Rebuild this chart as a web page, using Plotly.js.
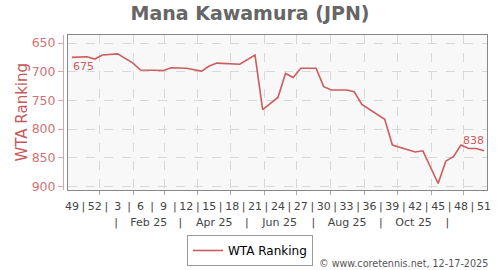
<!DOCTYPE html>
<html>
<head>
<meta charset="utf-8">
<script src="https://cdn.plot.ly/plotly-3.0.1.min.js"></script>
<style>
html,body{margin:0;padding:0;background:#fff;}
#chart{width:500px;height:270px;}
</style>
</head>
<body>
<div id="chart"></div>
<script>
// ---- data ----
const playerName = 'Mana Kawamura (JPN)';
const seriesName = 'WTA Ranking';
// week index counted from ISO week 49 of 2024 (0) to week 51 of 2025 (54)
const weekIndex = [0, 2, 3, 4, 6, 8, 9, 11, 12, 13, 15, 17, 18, 19, 22, 24, 25, 27, 28, 29, 30, 32, 33, 34, 36, 37, 38, 41, 42, 45, 46, 48, 49, 50, 51, 52, 53, 54];
const ranking   = [675, 674, 678, 671, 669, 685, 697, 697, 698, 693, 694, 699, 690, 685, 687, 671, 766, 745, 703, 710, 694, 694, 726, 732, 732, 735, 757, 783, 828, 840, 838, 895, 856, 848, 828, 834, 834, 838];
const weekTickIndex = [0, 3, 6, 9, 12, 15, 18, 21, 24, 27, 30, 33, 36, 39, 42, 45, 48, 51, 54];
const weekTickLabels = ['49', '52', '3', '6', '9', '12', '15', '18', '21', '24', '27', '30', '33', '36', '39', '42', '45', '48', '51'];
const monthLabelDates = ['2025-02-15', '2025-04-16', '2025-06-15', '2025-08-16', '2025-10-16'];
const monthLabels = ['Feb 25', 'Apr 25', 'Jun 25', 'Aug 25', 'Oct 25'];
const monthSeparatorDates = ['2025-01-16', '2025-03-16', '2025-05-16', '2025-07-16', '2025-09-16', '2025-11-16'];
const yTicks = [650, 700, 750, 800, 850, 900];
const footer = '\u00a9 www.coretennis.net, 12-17-2025';

// ---- helpers ----
const startMs = Date.UTC(2024, 11, 6, 12);
const DAY = 86400000;
function idxToDate(i) {
  return new Date(startMs + i * 7 * DAY).toISOString().slice(0, 19).replace('T', ' ');
}
const xDates = weekIndex.map(idxToDate);
const xRange = ['2024-12-02 22:00:00', '2025-12-22 08:00:00'];
const yRange = [906.3, 636.0];

// week row: labels + separators between them
const weekRowVals = [], weekRowText = [];
weekTickIndex.forEach((w, k) => {
  weekRowVals.push(idxToDate(w)); weekRowText.push(weekTickLabels[k]);
  if (k < weekTickIndex.length - 1) {
    weekRowVals.push(idxToDate(w + 1.5)); weekRowText.push('|');
  }
});
const monthRowVals = monthLabelDates.concat(monthSeparatorDates);
const monthRowText = monthLabels.concat(monthSeparatorDates.map(() => '|'));

const RED = '#cd5c5c';
const FONT = 'DejaVu Sans, Verdana, sans-serif';

const traces = [
  {
    x: xDates, y: ranking, type: 'scatter', mode: 'lines', name: seriesName,
    line: {color: RED, width: 1.6}, xaxis: 'x', yaxis: 'y', hoverinfo: 'skip'
  },
  {x: [], y: [], xaxis: 'x2', yaxis: 'y', showlegend: false, type: 'scatter'},
  {x: [], y: [], xaxis: 'x3', yaxis: 'y', showlegend: false, type: 'scatter'},
  {x: [], y: [], xaxis: 'x', yaxis: 'y2', showlegend: false, type: 'scatter'}
];

const layout = {
  width: 500, height: 270,
  margin: {l: 63, r: 13, t: 35, b: 80, pad: 0, autoexpand: false},
  paper_bgcolor: '#ffffff',
  plot_bgcolor: '#f8f8f8',
  font: {family: FONT, color: '#444'},
  showlegend: true,
  title: {
    text: playerName,
    font: {family: FONT, size: 19, weight: 'bold', color: '#666666'},
    xref: 'container', x: 0.5, xanchor: 'center',
    yref: 'container', y: 1 - 13 / 270, yanchor: 'middle'
  },
  xaxis: {
    type: 'date', range: xRange, domain: [5 / 424, 1],
    dtick: 'M1', tick0: '2025-01-01',
    showgrid: true, gridcolor: '#d8d8d8', griddash: 'dash', gridwidth: 1,
    ticks: 'outside', ticklen: 4, tickcolor: '#aaaaaa',
    showticklabels: false,
    showline: true, mirror: true, linecolor: '#888888', linewidth: 1,
    zeroline: false, fixedrange: true, automargin: false
  },
  xaxis2: {
    type: 'date', range: xRange, overlaying: 'x', anchor: 'y', side: 'bottom',
    tickmode: 'array', tickvals: weekRowVals, ticktext: weekRowText,
    ticks: '', showgrid: false, showline: false, zeroline: false,
    tickfont: {family: FONT, size: 11, color: '#444444'},
    ticklabelstandoff: 8, tickangle: 0, automargin: false
  },
  xaxis3: {
    type: 'date', range: xRange, overlaying: 'x', anchor: 'y', side: 'bottom',
    tickmode: 'array', tickvals: monthRowVals, ticktext: monthRowText,
    ticks: '', showgrid: false, showline: false, zeroline: false,
    tickfont: {family: FONT, size: 11, color: '#444444'},
    ticklabelstandoff: 24, tickangle: 0, automargin: false
  },
  yaxis: {
    range: yRange, anchor: 'free', position: 0,
    tickmode: 'array', tickvals: yTicks,
    ticks: 'outside', ticklen: 5, tickcolor: '#e2a4a4',
    tickfont: {family: FONT, size: 12.5, color: '#d27474'},
    showline: true, linecolor: '#e2a4a4', linewidth: 1,
    showgrid: true, gridcolor: '#d8d8d8', griddash: 'dash', gridwidth: 1,
    zeroline: false, automargin: false
  },
  yaxis2: {
    range: yRange, overlaying: 'y', anchor: 'x', side: 'left',
    showline: true, mirror: true, linecolor: '#888888', linewidth: 1,
    showticklabels: false, ticks: '', showgrid: false, zeroline: false
  },
  legend: {
    orientation: 'h', x: (250 - 63) / 424, xanchor: 'center',
    y: (190 - 235) / 155, yanchor: 'top',
    bordercolor: '#999999', borderwidth: 1, bgcolor: '#ffffff',
    font: {family: FONT, size: 12, color: '#000000'}
  },
  annotations: [
    {
      x: (21 - 63) / 424, y: 0.5, xref: 'paper', yref: 'paper',
      text: seriesName, textangle: -90, showarrow: false,
      xanchor: 'center', yanchor: 'middle',
      font: {family: FONT, size: 15, color: '#c55858'}
    },
    {
      x: xDates[0], y: ranking[0], xref: 'x', yref: 'y',
      text: String(ranking[0]), showarrow: false,
      xanchor: 'left', yanchor: 'middle', yshift: -9, xshift: -1,
      font: {family: FONT, size: 11, color: RED}
    },
    {
      x: xDates[xDates.length - 1], y: ranking[ranking.length - 1], xref: 'x', yref: 'y',
      text: String(ranking[ranking.length - 1]), showarrow: false,
      xanchor: 'right', yanchor: 'middle', yshift: 10, xshift: 2,
      font: {family: FONT, size: 11, color: RED}
    },
    {
      x: 1, y: (190 - 263) / 155, xref: 'paper', yref: 'paper',
      text: footer, showarrow: false, xanchor: 'right', yanchor: 'middle', xshift: 3,
      font: {family: FONT, size: 9.6, color: '#555555'}
    }
  ]
};

Plotly.newPlot('chart', traces, layout, {staticPlot: true, displayModeBar: false});
</script>
</body>
</html>
